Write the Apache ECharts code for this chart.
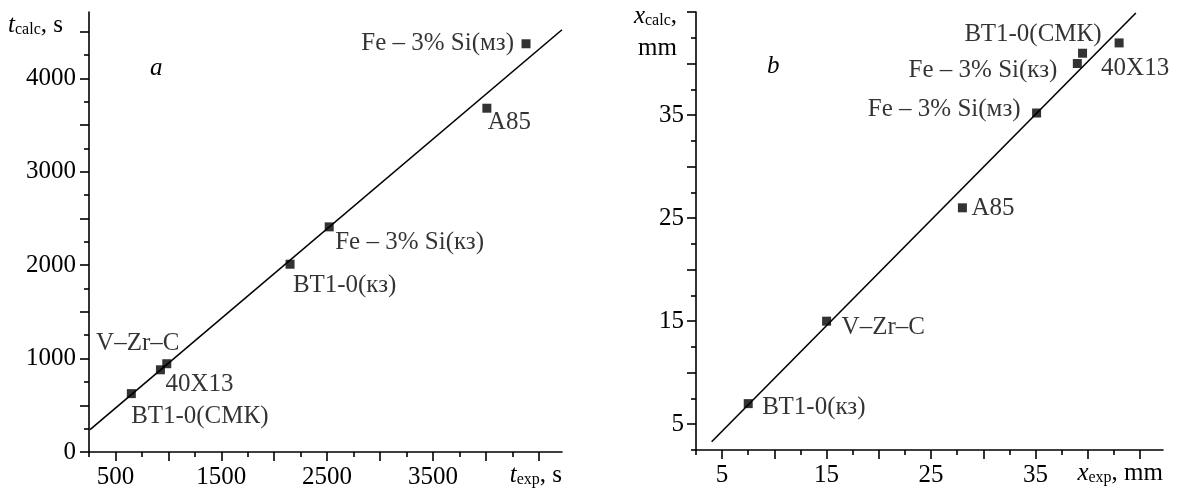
<!DOCTYPE html>
<html>
<head>
<meta charset="utf-8">
<title>t_calc vs t_exp, x_calc vs x_exp</title>
<script src="https://cdn.jsdelivr.net/npm/echarts@6/dist/echarts.min.js"></script>
<style>
  html, body { margin: 0; padding: 0; background: #fff; }
  #chart { width: 1180px; height: 491px; }
</style>
</head>
<body>
<div id="chart"></div>
<script>
// panel a: time, s
const namesA = ['Fe – 3% Si(мз)', 'А85', 'Fe – 3% Si(кз)', 'ВТ1-0(кз)', 'V–Zr–C', '40Х13', 'ВТ1-0(СМК)'];
const tExpA = [4380, 4010, 2520, 2150, 985, 925, 650];
const tCalcA = [4370, 3680, 2410, 2010, 945, 880, 625];
const fitA = [[260, 240], [4720, 4520]];
const xTicksMajorA = [500, 1000, 1500, 2000, 2500, 3000, 3500, 4000, 4500];
const xTicksMinorA = [250, 750, 1250, 1750, 2250, 2750, 3250, 3750, 4250];
const xLabelsA = [500, 1500, 2500, 3500];
const yTicksMajorA = [0, 500, 1000, 1500, 2000, 2500, 3000, 3500, 4000, 4500];
const yTicksMinorA = [250, 750, 1250, 1750, 2250, 2750, 3250, 3750, 4250];
const yLabelsA = [0, 1000, 2000, 3000, 4000];

// panel b: depth, mm
const namesB = ['ВТ1-0(СМК)', '40Х13', 'Fe – 3% Si(кз)', 'Fe – 3% Si(мз)', 'А85', 'V–Zr–C', 'ВТ1-0(кз)'];
const xExpB = [39.5, 43.0, 39.0, 35.1, 28.0, 15.0, 7.5];
const xCalcB = [41.0, 42.0, 40.0, 35.2, 26.0, 15.0, 7.0];
const fitB = [[4.0, 3.3], [44.6, 44.9]];
const ticksMajorB = [5, 10, 15, 20, 25, 30, 35, 40, 45];
const ticksMinorB = [2.5, 7.5, 12.5, 17.5, 22.5, 27.5, 32.5, 37.5, 42.5];
const labelsB = [5, 15, 25, 35];

// where each point label sits: [align, dx, dy] from the point centre
const placeA = [['right', -12, 0], ['left', 1, 14], ['left', 6, 16], ['left', 3, 21],
                ['center', -29, -20], ['left', 5, 15], ['left', 0, 23]];
const placeB = [['right', 19, -19], ['left', -18, 26], ['right', -20, 7], ['right', -16, -4],
                ['left', 9, 1], ['left', 15, 6], ['left', 14, 4]];

const FONT = "'Liberation Serif', 'Times New Roman', serif";
const INK = '#000';
const FS = 25;

const rich = {
  it: { fontFamily: FONT, fontSize: FS, fontStyle: 'italic', color: INK },
  sub: { fontFamily: FONT, fontSize: 16, color: INK, padding: [9, 0, 0, 0] },
  n: { fontFamily: FONT, fontSize: FS, color: INK }
};

const plain = v => String(v);

function points(names, xs, ys, place) {
  return names.map((name, i) => ({
    name: name,
    value: [xs[i], ys[i]],
    label: {
      show: true,
      position: 'inside',
      formatter: name,
      align: place[i][0],
      verticalAlign: 'middle',
      offset: [place[i][1], place[i][2]],
      color: INK,
      fontFamily: FONT,
      fontSize: FS
    }
  }));
}

function mainAxis(grid, min, max, ticks, labels, margin, extra) {
  return Object.assign({
    type: 'value', gridIndex: grid, min: min, max: max,
    axisLine: { show: true, onZero: false, lineStyle: { color: INK, width: 1.6 } },
    axisTick: { show: true, customValues: ticks, length: 9, lineStyle: { color: INK, width: 1.6 } },
    axisLabel: { customValues: labels, formatter: plain, margin: margin,
                 color: INK, fontFamily: FONT, fontSize: FS },
    splitLine: { show: false }
  }, extra);
}

function minorAxis(grid, min, max, ticks, position) {
  return {
    type: 'value', gridIndex: grid, min: min, max: max, position: position,
    axisLine: { show: false, onZero: false },
    axisTick: { show: true, customValues: ticks, length: 5, lineStyle: { color: INK, width: 1.6 } },
    axisLabel: { show: false },
    splitLine: { show: false }
  };
}

const chart = echarts.init(document.getElementById('chart'));

chart.setOption({
  animation: false,
  backgroundColor: '#fff',
  title: [
    { text: 'a', left: 150, top: 56, padding: 0,
      textStyle: { fontFamily: FONT, fontSize: FS, fontStyle: 'italic', fontWeight: 'normal', color: INK } },
    { text: 'b', left: 767, top: 54, padding: 0,
      textStyle: { fontFamily: FONT, fontSize: FS, fontStyle: 'italic', fontWeight: 'normal', color: INK } }
  ],
  grid: [
    { left: 89, top: 12, width: 473, height: 440 },
    { left: 696, top: 10, width: 467, height: 440 }
  ],
  xAxis: [
    mainAxis(0, 250, 4720, xTicksMajorA, xLabelsA, 13, {
      position: 'bottom',
      name: '{it|t}{sub|exp}{n|, s}', nameLocation: 'end', nameGap: 0,
      nameTextStyle: { align: 'right', verticalAlign: 'top', padding: [11, 0, 0, 0], rich: rich }
    }),
    minorAxis(0, 250, 4720, xTicksMinorA, 'bottom'),
    mainAxis(1, 2.5, 47.2, ticksMajorB, labelsB, 13, {
      position: 'bottom',
      name: '{it|x}{sub|exp}{n|, mm}', nameLocation: 'end', nameGap: 0,
      nameTextStyle: { align: 'right', verticalAlign: 'top', padding: [11, 0, 0, 0], rich: rich }
    }),
    minorAxis(1, 2.5, 47.2, ticksMinorB, 'bottom')
  ],
  yAxis: [
    mainAxis(0, 0, 4710, yTicksMajorA, yLabelsA, 13, {
      position: 'left',
      name: '{it|t}{sub|calc}{n|, s}', nameLocation: 'end', nameGap: -13,
      nameTextStyle: { align: 'right', verticalAlign: 'middle', padding: [0, 26, 0, 0], rich: rich }
    }),
    minorAxis(0, 0, 4710, yTicksMinorA, 'left'),
    mainAxis(1, 2.5, 45, ticksMajorB, labelsB, 12, {
      position: 'left',
      name: '{it|x}{sub|calc}{n|,}\n{n|mm}', nameLocation: 'end', nameGap: -20,
      nameTextStyle: { align: 'right', verticalAlign: 'middle', lineHeight: 32, padding: [0, 19, 0, 0], rich: rich }
    }),
    minorAxis(1, 2.5, 45, ticksMinorB, 'left')
  ],
  series: [
    {
      type: 'line', xAxisIndex: 0, yAxisIndex: 0, data: fitA,
      showSymbol: false, silent: true,
      lineStyle: { color: INK, width: 1.6 }
    },
    {
      type: 'scatter', xAxisIndex: 0, yAxisIndex: 0,
      symbol: 'rect', symbolSize: 9,
      itemStyle: { color: INK },
      data: points(namesA, tExpA, tCalcA, placeA)
    },
    {
      type: 'line', xAxisIndex: 2, yAxisIndex: 2, data: fitB,
      showSymbol: false, silent: true,
      lineStyle: { color: INK, width: 1.6 }
    },
    {
      type: 'scatter', xAxisIndex: 2, yAxisIndex: 2,
      symbol: 'rect', symbolSize: 9,
      itemStyle: { color: INK },
      data: points(namesB, xExpB, xCalcB, placeB)
    }
  ]
});
</script>
</body>
</html>
